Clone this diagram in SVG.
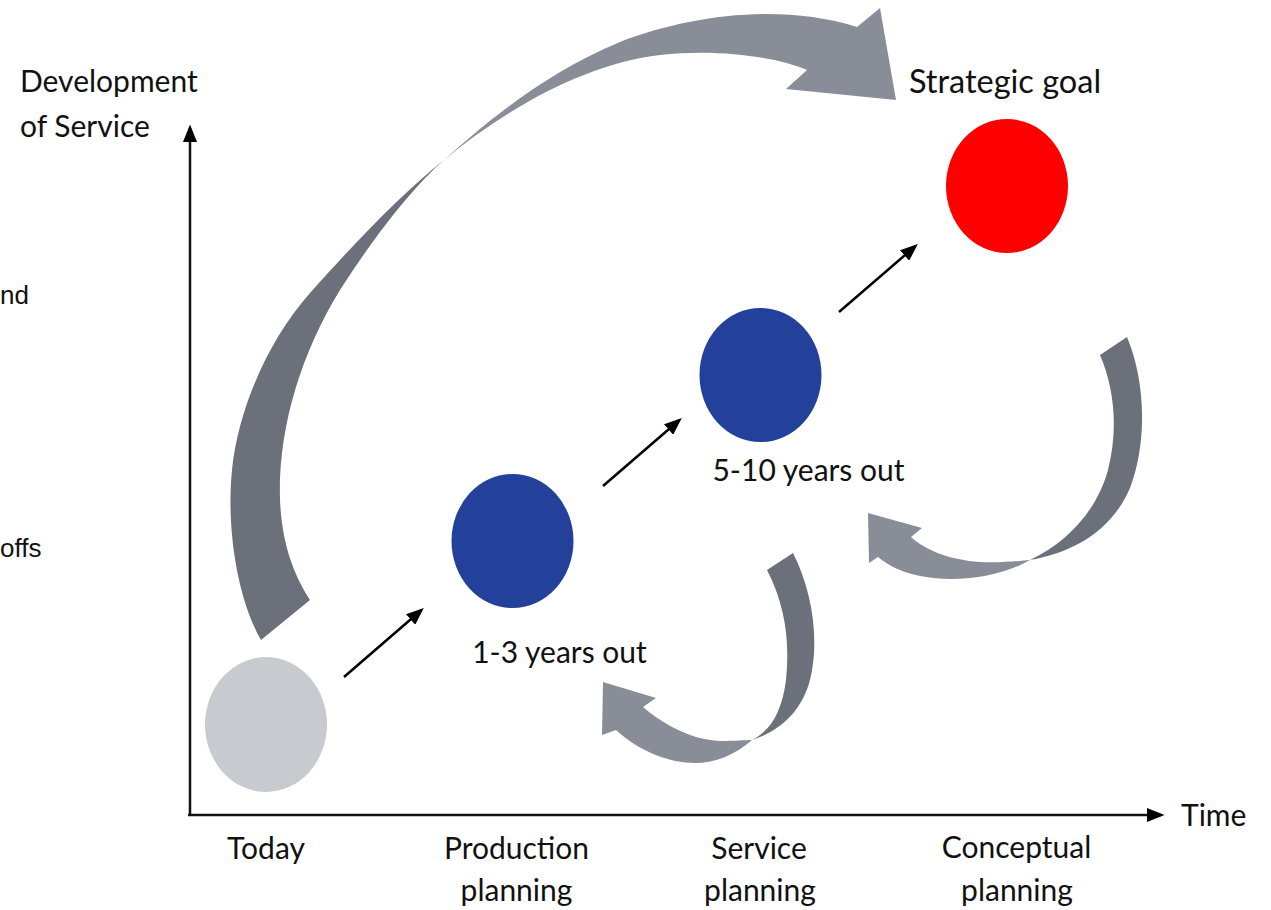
<svg xmlns="http://www.w3.org/2000/svg" width="1271" height="910" viewBox="0 0 1271 910">
<defs>
<marker id="ah" viewBox="0 0 10 8" refX="8" refY="4" markerWidth="7" markerHeight="5.6" orient="auto" markerUnits="strokeWidth">
<path d="M0,0 L10,4 L0,8 z" fill="#000"/>
</marker>
</defs>
<style>
.t{font-family:Lato,"Open Sans","Liberation Sans",sans-serif;font-size:30px;fill:#111}
.ta{font-family:"Liberation Sans",Arial,sans-serif;font-size:26px;fill:#111}
.c{text-anchor:middle}
.ln{stroke:#000;stroke-width:2.5;fill:none;marker-end:url(#ah)}
.ax{stroke:#111;stroke-width:2.5;fill:none;marker-end:url(#ah)}
.dk{fill:#6B707A}
.lt{fill:#898D97}
</style>
<rect width="1271" height="910" fill="#fff"/>

<text class="ta" x="0" y="304">nd</text>
<text class="ta" x="0" y="557">offs</text>

<g id="axes">
<line class="ax" x1="190" y1="816" x2="190" y2="128"/>
<line class="ax" x1="188" y1="815" x2="1161" y2="815"/>
<text class="t" x="20" y="92">Development</text>
<text class="t" x="20" y="137">of Service</text>
<text class="t" x="1181" y="826">Time</text>
</g>

<g id="connectors">
<g id="big-arrow">
<path class="dk" d="M261,640 C238,600 226,530 232,470 C238,410 268,340 310,293 C350,248 400,195 444,160 C415,185 375,235 340,290 C300,355 278,430 280,500 C282,545 294,575 310,600 Z"/>
<path class="lt" d="M444,160 C480,128 540,75 620,42 C690,15 780,3 857,27 L880,8 L896,100 L786,89 L807,70 C780,58 720,48 660,55 C590,63 510,105 444,160 Z"/>
</g>
<g id="loop-right">
<path class="dk" d="M1127,337 C1145,380 1148,440 1130,488 C1112,530 1075,552 1030,560 C1068,542 1097,510 1108,470 C1118,430 1115,390 1100,355 Z"/>
<path class="lt" d="M1030,560 C1005,575 960,584 920,576 C900,572 888,565 878,557 L869,563 L868,513 L922,528 L911,537 C925,550 950,560 980,562 C1000,563 1018,561 1030,560 Z"/>
</g>
<g id="loop-left">
<path class="dk" d="M793,553 C812,590 820,640 810,680 C802,710 782,730 752,740 C772,730 782,710 786,680 C790,640 785,605 767,570 Z"/>
<path class="lt" d="M752,740 C735,755 715,763 695,763 C670,763 640,752 616,730 L602,735 L603,682 L656,698 L643,707 C660,722 690,740 720,741 C735,741 745,740 752,740 Z"/>
</g>
<line class="ln" x1="344" y1="677" x2="421.2" y2="610.3"/>
<line class="ln" x1="603" y1="486" x2="679.2" y2="420.3"/>
<line class="ln" x1="839" y1="312" x2="915.2" y2="246.3"/>
</g>

<g id="today">
<ellipse cx="266" cy="724.5" rx="61" ry="67.5" fill="#C7CBCF"/>
<text class="t c" x="266" y="859">Today</text>
</g>

<g id="production">
<ellipse cx="512.5" cy="541" rx="61" ry="67" fill="#23409A"/>
<text class="t c" x="559.5" y="663">1-3 years out</text>
<text class="t c" x="516.5" y="859">Production</text>
<text class="t c" x="516.5" y="901">planning</text>
</g>

<g id="service">
<ellipse cx="760.5" cy="375" rx="61" ry="67" fill="#23409A"/>
<text class="t c" x="808.5" y="481">5-10 years out</text>
<text class="t c" x="759" y="859">Service</text>
<text class="t c" x="760" y="901">planning</text>
</g>

<g id="goal">
<ellipse cx="1007" cy="186" rx="61" ry="67" fill="#FF0000"/>
<text class="t c" x="1005" y="93" style="font-size:32.5px">Strategic goal</text>
<text class="t c" x="1016.5" y="858">Conceptual</text>
<text class="t c" x="1017" y="901">planning</text>
</g>
</svg>
